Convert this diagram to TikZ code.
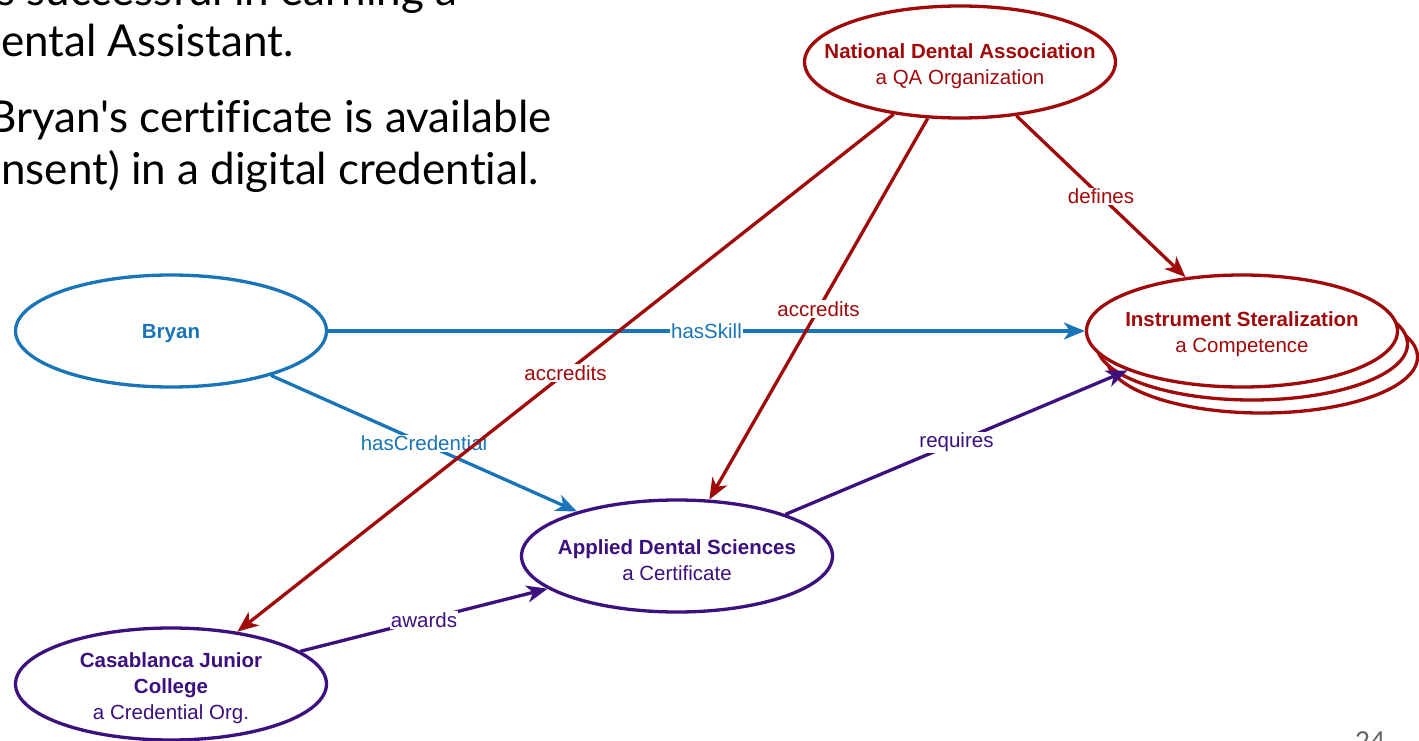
\documentclass[tikz,border=0pt]{standalone}
\usepackage{fontspec}
\setmainfont{Liberation Sans}
\newfontfamily\slidefont[Ligatures={NoCommon}]{Lato}
\usetikzlibrary{arrows.meta,shapes.geometric}
\definecolor{cblue}{RGB}{25,117,183}
\definecolor{cred}{RGB}{160,10,10}
\definecolor{cpurple}{RGB}{60,16,125}
\definecolor{cgray}{RGB}{100,100,100}
\begin{document}
\begin{tikzpicture}[x=1pt,y=-1pt,
  ell/.style={ellipse, draw, line width=3.3pt, fill=white, minimum width=311pt, minimum height=112pt, inner sep=0pt},
  txt/.style={inner sep=0pt, align=center, font=\fontsize{20.5}{26}\selectfont},
  edge/.style={line width=3.3pt, -{Stealth[length=21pt,width=17pt,inset=6pt]}},
  lbl/.style={fill=white, inner sep=1pt, font=\fontsize{20.5}{24}\selectfont},
  slide/.style={anchor=base west, inner sep=0pt, font=\slidefont\fontsize{44}{52}\selectfont}
]
\useasboundingbox (0,0) rectangle (1419,741);
\clip (0,0) rectangle (1419,741);
\fill[white] (0,0) rectangle (1419,741);

% slide text
\node[slide] (t1) at (-4,6) {s successful in earning a};
\node[slide] (t2) at (1,57) {ental Assistant.};
\node[slide] (t3) at (-12,133) {Bryan's certificate is available};
\node[slide] (t4) at (1,185) {nsent) in a digital credential.};
\node[anchor=base west, inner sep=0pt, text=cgray, font=\slidefont\fontsize{26}{26}\selectfont] (pg) at (1355,750) {24};

% nodes
\node[ell, draw=cblue] (bryan) at (171,331) {};
\node[txt, text=cblue] (bryan-t) at (171,334) {\textbf{Bryan}};
\node[ell, draw=cred] (nda) at (960,62) {};
\node[txt, text=cred] (nda-t) at (960,66) {\textbf{National Dental Association}\\a QA Organization};
\node[ell, draw=cred] (inst3) at (1262,357) {};
\node[ell, draw=cred] (inst2) at (1252,344) {};
\node[ell, draw=cred] (inst) at (1242,331) {};
\node[txt, text=cred] (inst-t) at (1242,334) {\textbf{Instrument Steralization}\\a Competence};
\node[ell, draw=cpurple] (app) at (677,556) {};
\node[txt, text=cpurple] (app-t) at (677,560) {\textbf{Applied Dental Sciences}\\a Certificate};
\node[ell, draw=cpurple] (cas) at (171,684) {};
\node[txt, text=cpurple] (cas-t) at (171,688) {\textbf{Casablanca Junior}\\\textbf{College}\\a Credential Org.};

% edges
\draw[edge, cblue] (bryan) -- node[lbl, text=cblue] {hasSkill} (inst);
\draw[edge, cblue] (bryan) -- node[lbl, text=cblue] {hasCredential} (app);
\draw[edge, cred] (nda) -- node[lbl, text=cred] {accredits} (cas);
\draw[edge, cred] (nda) -- node[lbl, text=cred] {accredits} (app);
\draw[edge, cred] (nda) -- node[lbl, text=cred] {defines} (inst);
\draw[edge, cpurple] (app.21) -- node[lbl, text=cpurple] {requires} (inst.199);
\draw[edge, cpurple] (cas) -- node[lbl, text=cpurple] {awards} (app);
\end{tikzpicture}
\end{document}
